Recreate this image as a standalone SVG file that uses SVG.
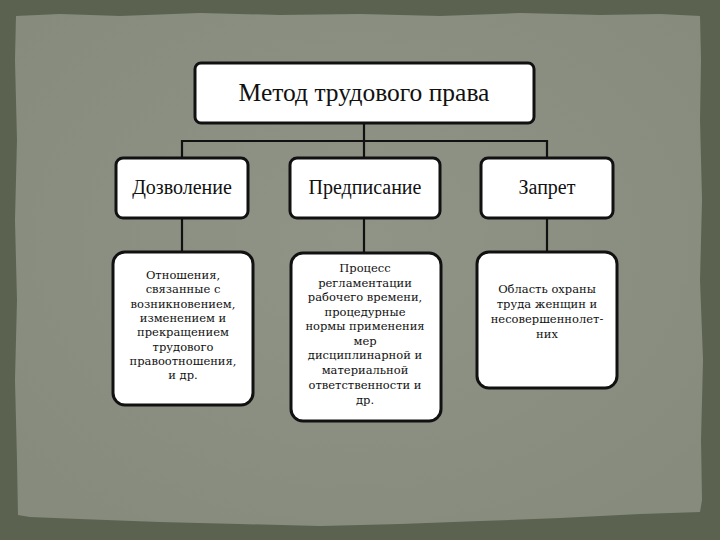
<svg xmlns="http://www.w3.org/2000/svg" width="720" height="540" viewBox="0 0 720 540">
<defs>
<radialGradient id="paperG" cx="50%" cy="45%" r="65%">
<stop offset="0" stop-color="#909487"/>
<stop offset="1" stop-color="#878b7d"/>
</radialGradient>
<style>
.box{fill:#ffffff;stroke:#111111;stroke-width:3}
.con{stroke:#111111;stroke-width:2.2;fill:none}
.t1{font-family:"Liberation Serif","DejaVu Serif",serif;font-size:25.5px;fill:#111111;text-anchor:middle}
.t2{font-family:"Liberation Serif","DejaVu Serif",serif;font-size:20px;fill:#111111;text-anchor:middle}
.t3{font-family:"DejaVu Serif","Liberation Serif",serif;font-size:11.5px;fill:#111111;text-anchor:middle}
</style>
</defs>
<rect x="0" y="0" width="720" height="540" fill="#5b6350"/>
<polygon fill="url(#paperG)" points="16,16 60,14 120,16 200,13 280,15 360,14 440,16 520,13 600,15 660,14 700,16 701,60 700,120 702,200 700,280 703,360 701,440 702,500 700,512 640,514 560,518 480,521 400,524 320,526 240,524 160,522 80,519 30,517 18,515 17,460 15,380 17,300 15,220 17,140 15,60"/>
<g id="connectors">
<line class="con" x1="364" y1="122" x2="364" y2="141"/>
<line class="con" x1="182" y1="141" x2="547" y2="141"/>
<line class="con" x1="182" y1="140" x2="182" y2="158"/>
<line class="con" x1="364" y1="141" x2="364" y2="158"/>
<line class="con" x1="547" y1="140" x2="547" y2="158"/>
<line class="con" x1="182" y1="218" x2="182" y2="252"/>
<line class="con" x1="364" y1="218" x2="364" y2="253"/>
<line class="con" x1="547" y1="218" x2="547" y2="252"/>
</g>
<g id="root">
<rect class="box" x="195" y="63" width="339" height="60" rx="6"/>
<text class="t1" x="364" y="101">Метод трудового права</text>
</g>
<g id="dozvolenie">
<rect class="box" x="116" y="158" width="132" height="60" rx="7"/>
<text class="t2" x="182" y="194">Дозволение</text>
</g>
<g id="predpisanie">
<rect class="box" x="290" y="158" width="150" height="60" rx="7"/>
<text class="t2" x="365" y="194">Предписание</text>
</g>
<g id="zapret">
<rect class="box" x="481" y="158" width="132" height="60" rx="7"/>
<text class="t2" x="547" y="194">Запрет</text>
</g>
<g id="dozvolenie-desc">
<rect class="box" x="113" y="252" width="140" height="153" rx="12"/>
<text class="t3" x="183" y="279">Отношения,</text>
<text class="t3" x="183" y="293">связанные с</text>
<text class="t3" x="183" y="308">возникновением,</text>
<text class="t3" x="183" y="322">изменением и</text>
<text class="t3" x="183" y="336">прекращением</text>
<text class="t3" x="183" y="351">трудового</text>
<text class="t3" x="183" y="365">правоотношения,</text>
<text class="t3" x="183" y="379">и др.</text>
</g>
<g id="predpisanie-desc">
<rect class="box" x="291" y="253" width="150" height="168" rx="12"/>
<text class="t3" x="365" y="272">Процесс</text>
<text class="t3" x="365" y="287">регламентации</text>
<text class="t3" x="365" y="301">рабочего времени,</text>
<text class="t3" x="365" y="316">процедурные</text>
<text class="t3" x="365" y="330">нормы применения</text>
<text class="t3" x="365" y="345">мер</text>
<text class="t3" x="365" y="359">дисциплинарной и</text>
<text class="t3" x="365" y="374">материальной</text>
<text class="t3" x="365" y="389">ответственности и</text>
<text class="t3" x="365" y="404">др.</text>
</g>
<g id="zapret-desc">
<rect class="box" x="477" y="252" width="140" height="136" rx="12"/>
<text class="t3" x="547" y="293">Область охраны</text>
<text class="t3" x="547" y="308">труда женщин и</text>
<text class="t3" x="547" y="323">несовершеннолет-</text>
<text class="t3" x="547" y="338">них</text>
</g>
</svg>
